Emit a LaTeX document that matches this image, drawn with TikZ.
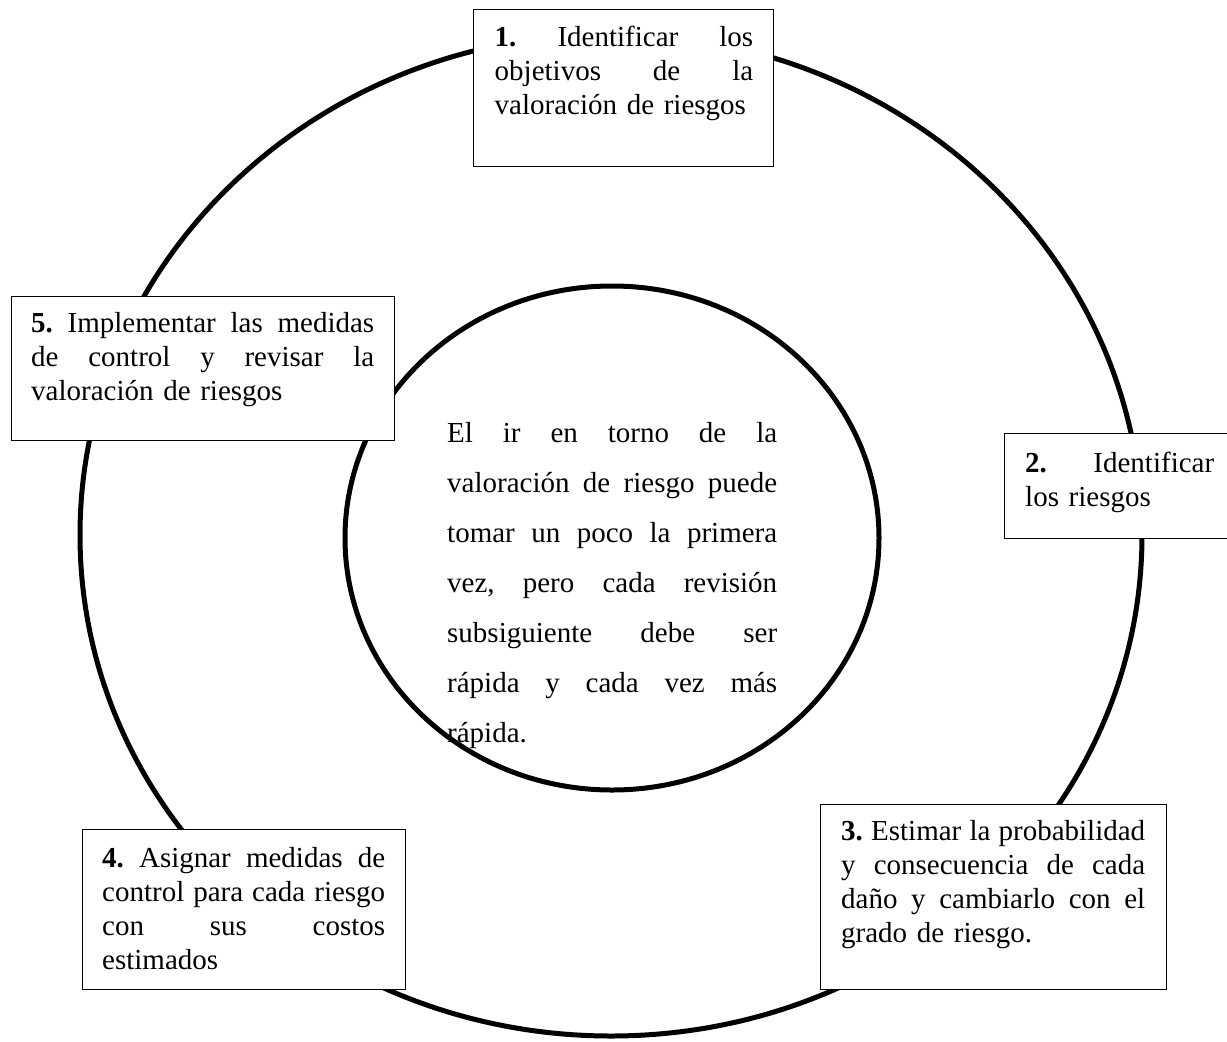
\documentclass[tikz,border=0pt]{standalone}
\usepackage{fontspec}
\setmainfont{Liberation Serif}
\usetikzlibrary{shapes.geometric}
\newlength\jw
\newcommand\jline[1]{\leavevmode\hbox to \jw{\spaceskip=\fontdimen2\font plus 1fil\relax #1}}
\frenchspacing
\begin{document}
\begin{tikzpicture}[x=1pt,y=-1pt,
  ring/.style={draw=black, line width=5pt, ellipse, inner sep=0pt},
  box/.style={draw=black, fill=white, line width=1.4pt, anchor=north west, inner sep=0pt},
  txt/.style={anchor=base west, inner sep=0pt, font=\fontsize{29}{34}\selectfont},
  tw/.style={text width=#1, execute at begin node={\setlength\jw{#1}}},
  ]
\useasboundingbox (0,0) rectangle (1227,1042);
% outer cycle
\node[ring, minimum width=1062pt, minimum height=1002pt] (outer) at (611,535) {};
% centre text and inner ellipse
\node[txt, tw=330pt, font=\fontsize{29}{50}\selectfont] (center) at (447,442)
  {\jline{El ir en torno de la}\\
   \jline{valoración de riesgo puede}\\
   \jline{tomar un poco la primera}\\
   \jline{vez, pero cada revisión}\\
   \jline{subsiguiente debe ser}\\
   \jline{rápida y cada vez más}\\
   rápida.};
\node[ring, minimum width=534pt, minimum height=504pt] (inner) at (612,538) {};
% step 1
\node[box, minimum width=300pt, minimum height=157pt] (b1) at (473,9) {};
\node[txt, tw=258.5pt] (t1) at (494.5,46.5)
  {\jline{\textbf{1.} Identificar los}\\
   \jline{objetivos de la}\\
   valoración de riesgos};
% step 2
\node[box, minimum width=235pt, minimum height=105pt] (b2) at (1004,433) {};
\node[txt, tw=189pt] (t2) at (1025,472)
  {\jline{\textbf{2.} Identificar}\\
   los riesgos};
% step 3
\node[box, minimum width=346pt, minimum height=185pt] (b3) at (820,804) {};
\node[txt, tw=304pt] (t3) at (841,840.5)
  {\jline{\textbf{3.} Estimar la probabilidad}\\
   \jline{y consecuencia de cada}\\
   \jline{daño y cambiarlo con el}\\
   grado de riesgo.};
% step 4
\node[box, minimum width=323pt, minimum height=160pt] (b4) at (82,829) {};
\node[txt, tw=283pt] (t4) at (102,867)
  {\jline{\textbf{4.} Asignar medidas de}\\
   \jline{control para cada riesgo}\\
   \jline{con sus costos}\\
   estimados};
% step 5
\node[box, minimum width=383pt, minimum height=144pt] (b5) at (11,296) {};
\node[txt, tw=343pt] (t5) at (31,332)
  {\jline{\textbf{5.} Implementar las medidas}\\
   \jline{de control y revisar la}\\
   valoración de riesgos};
\end{tikzpicture}
\end{document}
